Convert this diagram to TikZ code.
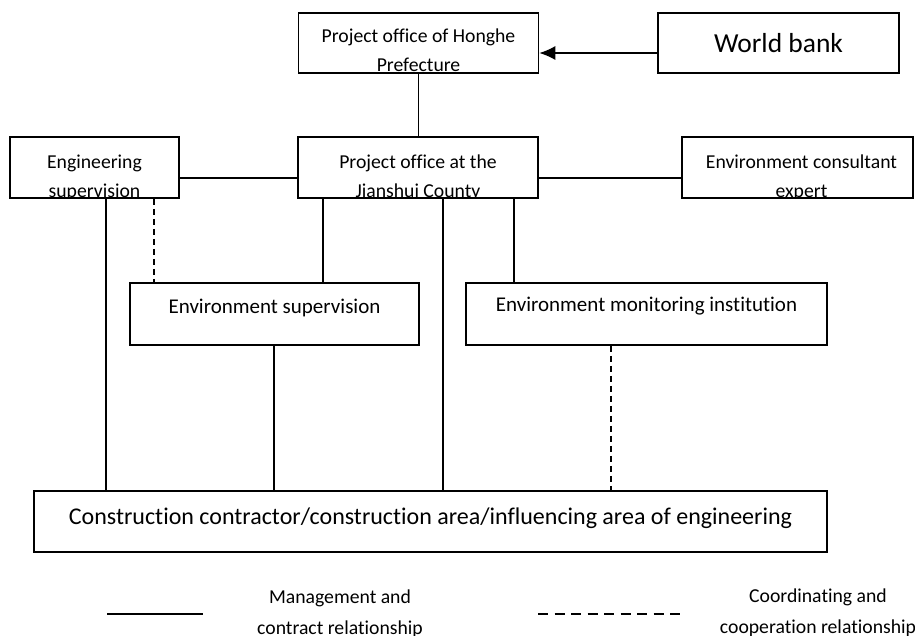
\documentclass[tikz,border=0pt]{standalone}
\usepackage{fontspec}
\setmainfont{Carlito}[Ligatures=NoCommon]
\usetikzlibrary{arrows.meta}
\begin{document}
\begin{tikzpicture}[x=1pt,y=-1pt,
  box/.style={draw, line width=1.5pt, rectangle, inner sep=0pt},
  txt/.style={font=\fontsize{19.7}{23}\selectfont, inner sep=0pt, anchor=base},
  bigtxt/.style={font=\fontsize{21}{25}\selectfont, inner sep=0pt, anchor=base},
  conn/.style={line width=1.5pt},
  coop/.style={line width=1.5pt, dash pattern=on 6pt off 4pt},
  legcoop/.style={line width=1.5pt, dash pattern=on 10pt off 6.5pt},
]
\useasboundingbox (0,0) rectangle (915,635);
\clip (0,0) rectangle (915,635);

% ---- top level ----
\node[box, minimum width=240pt, minimum height=60pt, path picture={
  \node[txt] at ([yshift=-29pt]path picture bounding box.north) {Project office of Honghe};
  \node[txt] at ([yshift=-58pt]path picture bounding box.north) {Prefecture};}]
  (hp) at (418.5,43) {};
\node[box, minimum width=241pt, minimum height=60pt,
  font=\fontsize{27.5}{33}\selectfont] (wb) at (778.5,43) {World bank};

% ---- second level ----
\node[box, minimum width=169pt, minimum height=61pt, path picture={
  \node[txt] at ([yshift=-31pt]path picture bounding box.north) {Engineering};
  \node[txt] at ([yshift=-60pt]path picture bounding box.north) {supervision};}]
  (es) at (94.5,167.5) {};
\node[box, minimum width=240pt, minimum height=61pt, path picture={
  \node[txt] at ([yshift=-31pt]path picture bounding box.north) {Project office at the};
  \node[txt] at ([yshift=-60pt]path picture bounding box.north) {Jianshui County};}]
  (js) at (418,167.5) {};
\node[box, minimum width=231pt, minimum height=61pt, path picture={
  \node[txt] at ([xshift=4pt,yshift=-31pt]path picture bounding box.north) {Environment consultant};
  \node[txt] at ([xshift=4pt,yshift=-60pt]path picture bounding box.north) {expert};}]
  (ce) at (797.5,167.5) {};

% ---- third level ----
\node[box, minimum width=289pt, minimum height=62pt, path picture={
  \node[bigtxt] at ([yshift=-30pt]path picture bounding box.north) {Environment supervision};}]
  (esv) at (274.5,314) {};
\node[box, minimum width=361pt, minimum height=62pt, path picture={
  \node[bigtxt] at ([yshift=-28pt]path picture bounding box.north) {Environment monitoring institution};}]
  (em) at (646.5,314) {};

% ---- bottom level ----
\node[box, minimum width=793pt, minimum height=61pt, path picture={
  \node[txt, font=\fontsize{24}{28}\selectfont] at ([yshift=-33pt]path picture bounding box.north)
    {Construction contractor/construction area/influencing area of engineering};}]
  (cc) at (430.5,521.5) {};

% ---- connector positions ----
\coordinate (ay) at (0,53);
\coordinate (hy) at (0,178);
\coordinate (xa) at (106,0);
\coordinate (xb) at (154,0);
\coordinate (xc) at (323,0);
\coordinate (xd) at (443,0);
\coordinate (xe) at (514,0);
\coordinate (xf) at (274,0);
\coordinate (xg) at (611,0);

% ---- connectors ----
\draw[conn, -{Latex[length=16pt,width=14pt]}] (wb.west |- ay) -- (hp.east |- ay);
\draw[conn] (hp.south) -- (hp.south |- js.north);
\draw[conn] (es.east |- hy) -- (js.west |- hy);
\draw[conn] (js.east |- hy) -- (ce.west |- hy);
\draw[conn] (es.south -| xa) -- (cc.north -| xa);
\draw[coop] (es.south -| xb) -- (esv.north -| xb);
\draw[conn] (js.south -| xc) -- (esv.north -| xc);
\draw[conn] (js.south -| xd) -- (cc.north -| xd);
\draw[conn] (js.south -| xe) -- (em.north -| xe);
\draw[conn] (esv.south -| xf) -- (cc.north -| xf);
\draw[coop] (em.south -| xg) -- (cc.north -| xg);

% ---- legend ----
\coordinate (l1a) at (107,614);
\coordinate (l1b) at (203,614);
\coordinate (l2a) at (538,614);
\coordinate (l2b) at (683,614);
\draw[conn] (l1a) -- (l1b);
\draw[legcoop] (l2a) -- (l2b);
\node[txt] (m1) at (340,603) {Management and};
\node[txt] (m2) at (340,634) {contract relationship};
\node[txt] (c1) at (818,602) {Coordinating and};
\node[txt] (c2) at (818,633) {cooperation relationship};
\end{tikzpicture}
\end{document}
